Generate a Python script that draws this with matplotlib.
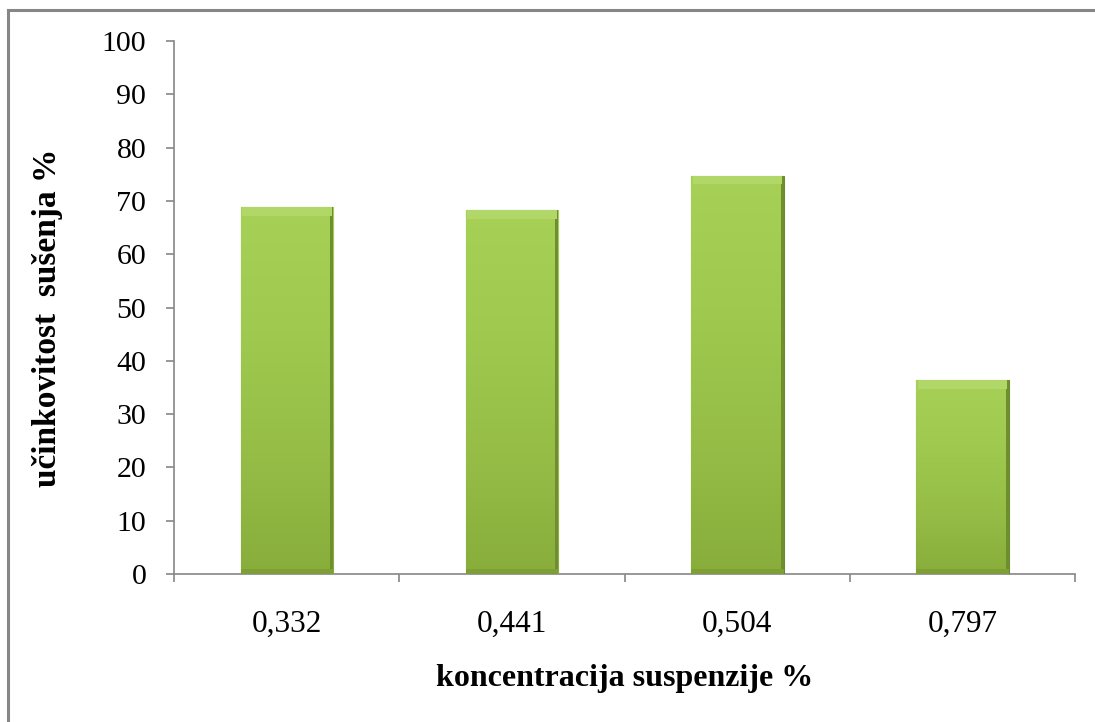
import numpy as np
import matplotlib
matplotlib.use("Agg")
import matplotlib.pyplot as plt
from matplotlib.colors import LinearSegmentedColormap

# Data
categories = ["0,332", "0,441", "0,504", "0,797"]
values = [68.8, 68.3, 74.7, 36.4]
y_ticks = [0, 10, 20, 30, 40, 50, 60, 70, 80, 90, 100]

plt.rcParams["font.family"] = ["Liberation Serif", "DejaVu Serif"]

fig = plt.figure(figsize=(10.95, 7.22), dpi=100)
ax = fig.add_axes([0.159, 0.205, 0.823, 0.738])

x = np.arange(len(categories))
bar_width = 0.41
bars = ax.bar(x, values, width=bar_width, color="#9cc54b",
              edgecolor="#6a8a2c", linewidth=0.8, zorder=3)

# vertical gradient inside each bar to mimic the Excel bevel look
grad_cmap = LinearSegmentedColormap.from_list(
    "bargrad", ["#88ad3b", "#96be47", "#9fc94f", "#a6d056"])
grad = np.linspace(0, 1, 256).reshape(-1, 1)
for b in bars:
    x0, w, h = b.get_x(), b.get_width(), b.get_height()
    im = ax.imshow(grad, extent=(x0, x0 + w, 0, h), origin="lower",
                   cmap=grad_cmap, aspect="auto", zorder=3.5)
    im.set_clip_path(b)
    # thin darker right edge and bottom band
    ax.bar(x0 + w * 0.985, h, width=w * 0.03, color="#6f8f2e",
           linewidth=0, zorder=3.6)
    ax.bar(x0 + w / 2, 1.0, width=w, color="#7e9f35",
           linewidth=0, zorder=3.6)
    # light top bevel
    ax.bar(x0 + w / 2, 1.6, bottom=h - 1.6, width=w * 0.97,
           color="#b0d767", linewidth=0, zorder=3.6)

ax.set_xlim(-0.5, len(categories) - 0.5)
ax.set_ylim(0, 100)
ax.set_yticks(y_ticks)
ax.set_xticks(x)
ax.set_xticklabels(categories)
ax.set_xticks(np.arange(len(categories) + 1) - 0.5, minor=True)

for side in ["top", "right"]:
    ax.spines[side].set_visible(False)
for side in ["left", "bottom"]:
    ax.spines[side].set_color("#868686")
    ax.spines[side].set_linewidth(1.2)

ax.tick_params(axis="y", direction="out", length=6, width=1.2,
               color="#868686", labelsize=21.5, pad=14)
ax.tick_params(axis="x", which="major", length=0, labelsize=22.5, pad=26)
ax.tick_params(axis="x", which="minor", direction="out", length=6,
               width=1.2, color="#868686")

ax.set_xlabel("koncentracija suspenzije %", fontsize=23, fontweight="bold",
              labelpad=18)
ax.set_ylabel("učinkovitost  sušenja %", fontsize=24, fontweight="bold",
              labelpad=28)
ax.yaxis.label.set_y(0.48)

# outer chart-area border
fig.add_artist(plt.Rectangle((0.007, -0.05), 1.05, 1.036,
                             transform=fig.transFigure, fill=False,
                             edgecolor="#868686", linewidth=2.2))

fig.savefig("out.png", dpi=100)
